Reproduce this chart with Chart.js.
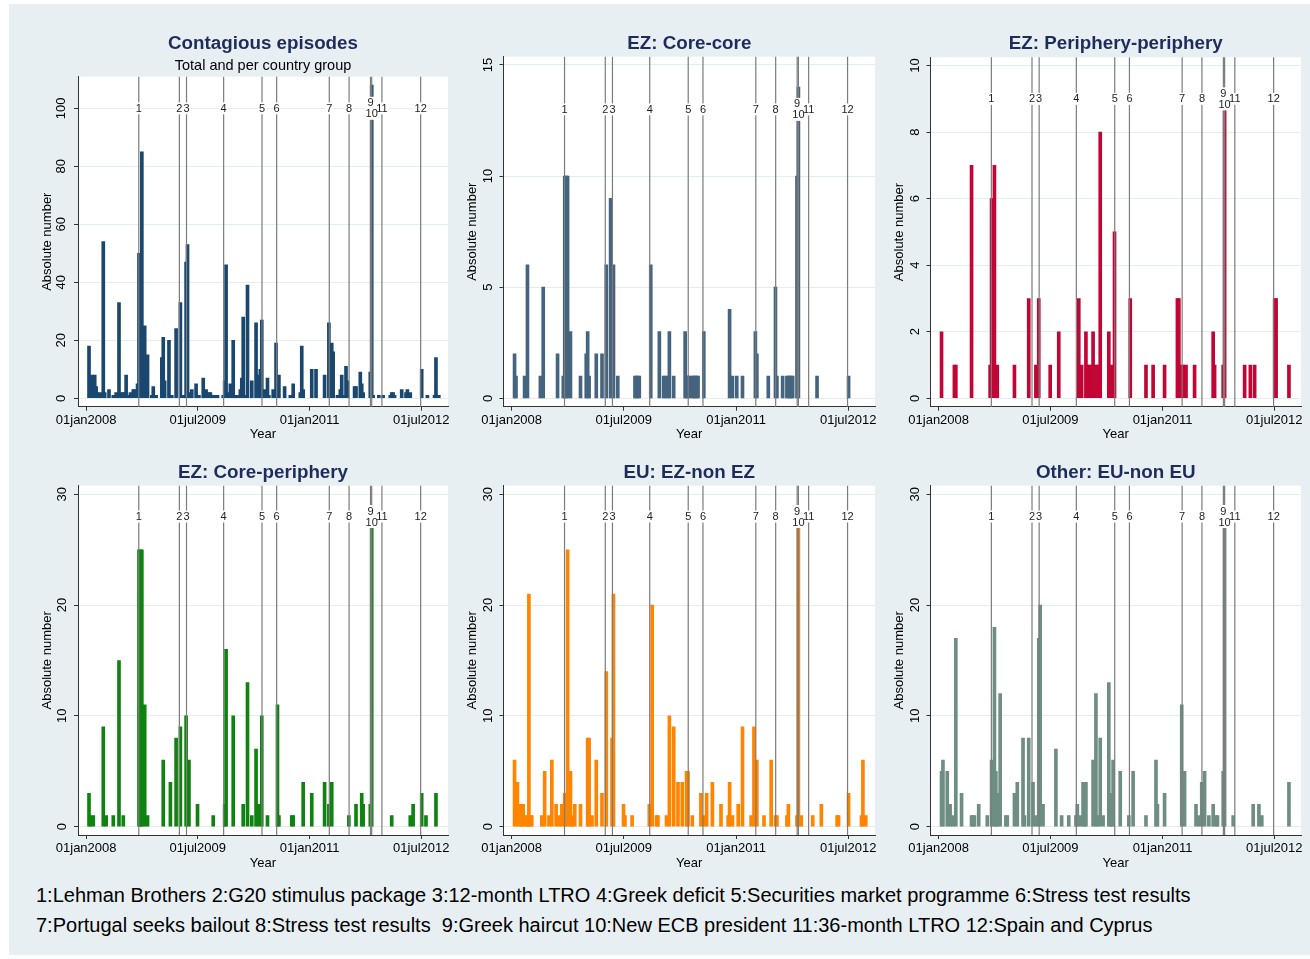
<!DOCTYPE html>
<html>
<head>
<meta charset="utf-8">
<title>Contagious episodes</title>
<script src="https://cdn.jsdelivr.net/npm/chart.js@4.4.1/dist/chart.umd.min.js"></script>
<style>
  html, body { margin: 0; padding: 0; background: #fff; }
  body { width: 1310px; height: 959px; position: relative; overflow: hidden; font-family: "Liberation Sans", Arial, sans-serif; }
  #region { position: absolute; left: 9px; top: 4px; width: 1301px; height: 951px; background: #e8eff2; }
  canvas { position: absolute; }
  .title { position: absolute; transform: translate(-50%, -50%); white-space: nowrap; font-weight: bold; font-size: 18.8px; color: #1e2c5c; }
  .sub { position: absolute; transform: translate(-50%, -50%); white-space: nowrap; font-size: 14.5px; color: #000; }
  .note { position: absolute; left: 36px; font-size: 20px; line-height: 22px; color: #000; white-space: pre; }
</style>
</head>
<body>
<div id="region"></div>
<div class="note" style="top:884px">1:Lehman Brothers 2:G20 stimulus package 3:12-month LTRO 4:Greek deficit 5:Securities market programme 6:Stress test results</div>
<div class="note" style="top:914px">7:Portugal seeks bailout 8:Stress test results  9:Greek haircut 10:New ECB president 11:36-month LTRO 12:Spain and Cyprus</div>
<script>
// weekly counts of contagious episodes; week 0 = first week of 2008
const totWk = [2,4,5,6,7,8,10,12,13,16,19,21,23,25,26,28,30,31,33,34,36,37,39,41,42,43,46,47,49,53,54,55,58,60,63,66,68,70,71,73,74,77,79,82,84,86,87,89,90,91,92,96,97,98,100,101,103,105,106,108,109,110,111,113,116,119,121,122,123,125,127,128,131,133,135,139,143,145,150,151,152,158,161,167,170,172,173,176,178,179,181,182,183,188,189,192,193,194,199,200,201,205,208,213,214,215,216,221,224,225,227,235,239,244,245,247];
const totN  = [18,8,4,8,4,2,2,54,2,3,1,2,33,2,2,8,1,2,3,3,5,50,85,25,4,15,1,4,1,14,21,6,20,1,24,33,1,47,53,2,3,5,1,7,3,2,2,1,1,1,1,1,6,46,2,5,20,1,1,3,7,28,1,39,6,26,8,10,27,3,7,1,3,19,8,4,1,5,2,18,3,10,10,8,26,19,16,1,3,8,1,11,6,4,4,9,5,2,9,108,1,1,1,1,2,2,1,3,2,3,2,10,1,1,14,1];

const ccWk = [2,3,9,11,20,22,32,36,37,38,39,41,48,52,53,54,59,63,66,69,71,74,86,87,88,89,97,103,106,107,109,110,113,121,122,123,124,126,127,128,129,130,134,152,154,157,161,170,171,179,184,185,189,192,193,194,195,196,199,200,213,235];
const ccN  = [2,1,1,6,1,5,2,1,10,10,10,3,1,2,3,1,2,2,6,9,6,1,1,1,1,1,6,3,1,1,1,3,1,3,1,1,1,1,1,1,1,1,3,4,1,1,1,3,2,1,5,1,1,1,1,1,1,1,10,14,1,1];

const ppWk = [2,11,12,23,36,37,39,41,53,63,68,70,78,84,98,100,103,105,106,108,110,111,113,119,121,123,134,145,150,158,167,168,170,171,173,179,192,193,199,200,214,218,221,235,236,245];
const ppN  = [2,1,1,7,1,6,7,1,1,3,1,3,1,2,3,1,2,1,1,2,1,1,8,2,1,5,3,1,1,1,3,3,1,1,1,1,2,1,1,9,1,1,1,3,3,1];

const cpWk = [2,3,5,12,14,19,23,26,37,38,39,41,43,54,59,63,66,70,72,78,89,97,98,103,110,113,116,119,121,123,127,134,135,144,145,152,158,167,170,172,184,189,193,194,199,200,214,227,229,235,238,245];
const cpN  = [3,1,1,9,1,1,15,1,25,25,25,11,1,6,4,8,9,10,6,2,1,2,16,10,2,13,1,7,2,10,1,11,1,1,1,4,3,4,2,4,1,2,3,2,2,29,1,1,2,3,1,3];

const euWk = [2,4,6,7,8,10,11,12,13,14,21,23,26,28,31,33,35,37,39,41,42,44,48,53,54,56,59,63,66,70,71,78,79,84,96,98,101,102,108,110,113,116,119,122,123,126,132,134,136,140,146,151,152,154,158,161,167,169,171,176,181,184,185,192,193,199,200,202,210,216,227,228,235,244,245,247];
const euN  = [6,4,2,2,2,1,1,21,1,1,1,5,1,6,2,1,2,3,25,5,1,2,2,8,8,1,6,3,14,8,21,2,1,1,2,20,1,1,1,10,9,4,4,5,5,1,3,1,3,4,2,1,4,1,2,9,1,9,6,1,6,1,1,1,2,1,27,1,1,2,1,1,3,1,6,1];

const otWk = [2,3,6,8,10,12,16,23,24,25,28,34,37,39,40,41,43,47,48,53,55,59,60,63,66,68,70,71,73,82,86,91,96,97,99,101,102,103,108,110,111,113,115,119,120,121,122,127,133,136,145,152,153,158,170,172,180,182,184,186,189,192,194,195,199,200,206,220,224,226,245];
const otN  = [5,6,5,2,1,17,3,1,1,1,2,1,6,18,5,3,12,1,1,3,4,8,1,8,4,1,17,20,2,7,1,1,1,2,1,4,4,4,6,12,1,8,1,13,2,3,6,5,1,5,1,6,2,3,11,5,2,1,4,5,1,2,1,1,5,29,1,2,2,1,4];

// events marked by vertical lines
const eventDates = ['2008-09-15','2009-04-02','2009-05-07','2009-11-05','2010-05-12','2010-07-23','2011-04-07','2011-07-13','2011-10-26','2011-11-01','2011-12-21','2012-06-28'];
const eventNames = ['1','2','3','4','5','6','7','8','9','10','11','12'];

const xTickDates  = ['2008-01-01','2009-07-01','2011-01-01','2012-07-01'];
const xTickLabels = ['01jan2008','01jul2009','01jan2011','01jul2012'];

const yTicksTot = [0,20,40,60,80,100];
const yTicksCC  = [0,5,10,15];
const yTicksPP  = [0,2,4,6,8,10];
const yTicks30  = [0,10,20,30];

const FF = "'Liberation Sans', Arial, sans-serif";
const day = s => (Date.parse(s) - Date.parse('2008-01-01')) / 864e5;

// layout of the 3x2 grid (canvas box and plot region edges)
const cols = [
  { cl: 15,  cw: 442, pl: 78,    pr: 448  },
  { cl: 458, cw: 426, pl: 503.5, pr: 875  },
  { cl: 884, cw: 426, pl: 930.5, pr: 1301 }
];
const rows = [
  { ct: 40,  ch: 405, pb: 406.7, titleY: 43.3 },
  { ct: 470, ch: 405, pb: 835,   titleY: 471.7 }
];

const panels = [
  { title: 'Contagious episodes', sub: 'Total and per country group', wk: totWk, n: totN, color: '#1a476f',
    yTicks: yTicksTot, yMin: -2.9, yMax: 110.9, labelY: 100, col: 0, row: 0, top: 76.7, tickPad: 1.5 },
  { title: 'EZ: Core-core', wk: ccWk, n: ccN, color: '#44647f',
    yTicks: yTicksCC, yMin: -0.378, yMax: 15.37, labelY: 13, col: 1, row: 0, top: 56.7, tickPad: 4.3 },
  { title: 'EZ: Periphery-periphery', wk: ppWk, n: ppN, color: '#c10534',
    yTicks: yTicksPP, yMin: -0.253, yMax: 10.25, labelY: 9, col: 2, row: 0, top: 57.3, tickPad: 4.3 },
  { title: 'EZ: Core-periphery', wk: cpWk, n: cpN, color: '#0f830f',
    yTicks: yTicks30, yMin: -0.76, yMax: 30.78, labelY: 28, col: 0, row: 1, top: 485.7, tickPad: 4.3 },
  { title: 'EU: EZ-non EZ', wk: euWk, n: euN, color: '#ff8400',
    yTicks: yTicks30, yMin: -0.76, yMax: 30.78, labelY: 28, col: 1, row: 1, top: 485.7, tickPad: 4.3 },
  { title: 'Other: EU-non EU', wk: otWk, n: otN, color: '#6e8e84',
    yTicks: yTicks30, yMin: -0.76, yMax: 30.78, labelY: 28, col: 2, row: 1, top: 485.7, tickPad: 4.3 }
];

const plotBg = {
  id: 'plotBg',
  beforeDraw(chart) {
    const { ctx, chartArea: a } = chart;
    ctx.save();
    ctx.fillStyle = '#fff';
    ctx.fillRect(a.left, a.top, a.width, a.height);
    ctx.restore();
  }
};

const eventLines = {
  id: 'eventLines',
  afterDatasetsDraw(chart, args, opts) {
    const { ctx, chartArea: a, scales: { x, y } } = chart;
    ctx.save();
    ctx.strokeStyle = '#7c7c7c';
    ctx.lineWidth = 1.2;
    eventDates.forEach(d => {
      const px = x.getPixelForValue(day(d));
      ctx.beginPath();
      ctx.moveTo(px, a.top);
      ctx.lineTo(px, a.bottom);
      ctx.stroke();
    });
    ctx.font = '11px ' + FF;
    ctx.textAlign = 'center';
    ctx.textBaseline = 'middle';
    const items = eventDates.map((d, i) => {
      const name = eventNames[i];
      const shift = name === '9' ? -5.5 : name === '10' ? 5.5 : 0;
      return { name, px: x.getPixelForValue(day(d)), py: y.getPixelForValue(opts.labelY) + shift, w: ctx.measureText(name).width };
    });
    ctx.fillStyle = '#fff';
    items.forEach(it => ctx.fillRect(it.px - it.w / 2 - 1, it.py - 6, it.w + 2, 12));
    ctx.fillStyle = '#222';
    items.forEach(it => ctx.fillText(it.name, it.px, it.py + 0.5));
    ctx.restore();
  }
};

panels.forEach(p => {
  const c = cols[p.col], r = rows[p.row];
  const yW = c.pl - c.cl;
  const xH = r.ch - (r.pb - r.ct);

  const cv = document.createElement('canvas');
  cv.width = c.cw;
  cv.height = r.ch;
  cv.style.left = c.cl + 'px';
  cv.style.top = r.ct + 'px';
  document.body.appendChild(cv);

  const t = document.createElement('div');
  t.className = 'title';
  t.textContent = p.title;
  t.style.left = (c.pl + c.pr) / 2 + 'px';
  t.style.top = r.titleY + 'px';
  document.body.appendChild(t);
  if (p.sub) {
    const s = document.createElement('div');
    s.className = 'sub';
    s.textContent = p.sub;
    s.style.left = (c.pl + c.pr) / 2 + 'px';
    s.style.top = '65px';
    document.body.appendChild(s);
  }

  new Chart(cv, {
    type: 'bar',
    data: {
      datasets: [{
        data: p.wk.map((w, i) => ({ x: w * 7, y: p.n[i] })),
        backgroundColor: p.color,
        borderWidth: 0,
        barThickness: 3
      }]
    },
    options: {
      responsive: false,
      animation: false,
      devicePixelRatio: 1,
      layout: { padding: { left: 0, right: c.cl + c.cw - c.pr, top: p.top - r.ct, bottom: 0 } },
      plugins: {
        legend: { display: false },
        tooltip: { enabled: false },
        eventLines: { labelY: p.labelY }
      },
      scales: {
        x: {
          type: 'linear', min: -40, max: 1774, offset: false,
          afterBuildTicks: s => { s.ticks = xTickDates.map(d => ({ value: day(d) })); },
          afterFit: s => { s.height = xH; },
          ticks: {
            callback: (v, i) => xTickLabels[i],
            autoSkip: false, maxRotation: 0, minRotation: 0, padding: 1.5,
            color: '#000', font: { size: 13, family: FF }
          },
          grid: { offset: false, drawOnChartArea: false, drawTicks: true, tickLength: 4, tickColor: '#333', color: '#333' },
          border: { display: true, color: '#333', width: 1 },
          title: { display: true, text: 'Year', color: '#000', font: { size: 13, family: FF },
                   padding: { top: 0, bottom: xH - (r.row === 0 ? 28.3 : 28) - 7.8 } }
        },
        y: {
          min: p.yMin, max: p.yMax,
          afterBuildTicks: s => { s.ticks = p.yTicks.map(v => ({ value: v })); },
          afterFit: s => { s.width = yW; },
          ticks: {
            minRotation: 90, maxRotation: 90, crossAlign: 'center', padding: p.tickPad,
            color: '#000', font: { size: 13, family: FF }
          },
          grid: { color: '#e4edf0', tickColor: '#333', tickLength: 4, drawTicks: true },
          border: { display: true, color: '#333', width: 1 },
          title: { display: true, text: 'Absolute number', color: '#000', font: { size: 13, family: FF },
                   padding: { top: yW - 31 - 7.8, bottom: 0 } }
        }
      }
    },
    plugins: [plotBg, eventLines]
  });
});
</script>
</body>
</html>
